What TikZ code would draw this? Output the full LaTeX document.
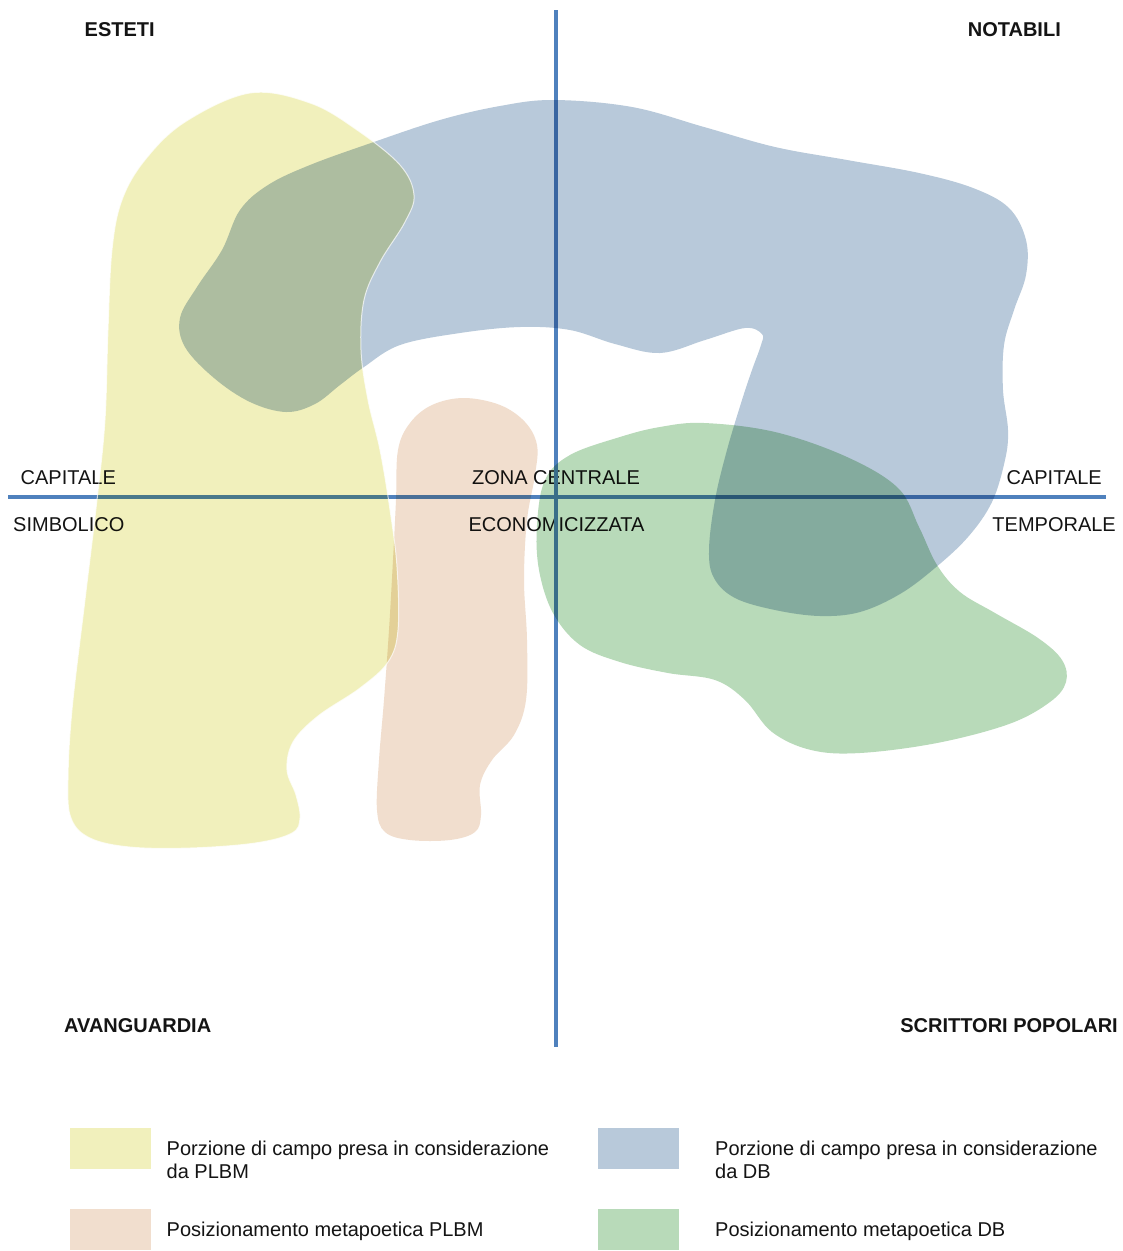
\documentclass[tikz,border=0pt]{standalone}
\usepackage{fontspec}
\setmainfont{Liberation Sans}
\definecolor{cyel}{RGB}{241,240,188}
\definecolor{cblu}{RGB}{184,201,218}
\definecolor{cpea}{RGB}{241,222,206}
\definecolor{cgre}{RGB}{184,218,185}
\definecolor{caxis}{RGB}{79,129,189}
\definecolor{ctxt}{RGB}{20,20,20}
\tikzset{
  lbl/.style={font=\fontsize{20}{23}\selectfont, text=ctxt, inner sep=0pt},
  blbl/.style={lbl, font=\fontsize{20}{23}\selectfont\bfseries},
  axis/.style={draw=caxis, line width=3.5pt},
  blob/.style={blend mode=multiply, draw=none},
  swatch/.style={draw=none, minimum width=81pt, minimum height=41pt, inner sep=0pt}
}
\begin{document}
\begin{tikzpicture}[x=1pt,y=-1pt]
\useasboundingbox (0,0) rectangle (1123,1251);
\fill[white] (0,0) rectangle (1123,1251);
% corner labels
\node[blbl, anchor=base west] (esteti) at (84.5,36.7) {ESTETI};
\node[blbl, anchor=base east] (notabili) at (1061,36.7) {NOTABILI};
\node[blbl, anchor=base west] (avang) at (64,1032) {AVANGUARDIA};
\node[blbl, anchor=base east] (scritt) at (1118,1032) {SCRITTORI POPOLARI};
% axis labels
\node[lbl, anchor=base west] (capl) at (20.5,484) {CAPITALE};
\node[lbl, anchor=base west] (simb) at (13,531) {SIMBOLICO};
\node[lbl, anchor=base] (zona) at (556,484) {ZONA CENTRALE};
\node[lbl, anchor=base] (econ) at (556.5,531) {ECONOMICIZZATA};
\node[lbl, anchor=base east] (capr) at (1102,484) {CAPITALE};
\node[lbl, anchor=base east] (temp) at (1116,531) {TEMPORALE};
% axes
\coordinate (vtop) at (556,10);
\coordinate (vbot) at (556,1047);
\coordinate (hleft) at (8,497);
\coordinate (hright) at (1106,497);
\draw[axis] (vtop) -- (vbot);
\draw[axis] (hleft) -- (hright);
% yellow: porzione PLBM
\def\yellowpath{plot[smooth cycle, tension=0.6] coordinates {
 (250,93) (310,103) (357,130) (400,165) (414,195) (405,222) (380,262) (364,300)
 (361,350) (368,400) (380,450) (390,510) (397,567) (398,630) (388,662) (360,688)
 (318,716) (293,742) (287,770) (296,795) (300,818) (292,833) (255,843) (190,848)
 (130,847) (90,838) (71,818) (68,780) (72,710) (85,600) (97,500) (105,420)
 (108,330) (112,250) (122,200) (145,160) (185,122)}}
\fill[blob, fill=cyel] \yellowpath;
% blue: porzione DB
\fill[blob, fill=cblu] plot[smooth cycle, tension=0.6] coordinates {
 (554,100) (632,107) (704,127) (775,147) (847,160) (919,173) (973,188) (1009,208)
 (1026,240) (1026,275) (1014,310) (1004,345) (1003,390) (1008,430) (1005,460)
 (992,502) (968,537) (935,568) (900,594) (860,612) (820,616) (775,610) (735,598)
 (714,578) (709,550) (715,500) (727,450) (742,400) (752,370) (761,345) (762,334)
 (745,328) (705,340) (660,353) (615,344) (570,330) (520,327) (460,333) (400,345)
 (364,367) (340,385) (315,404) (286,412) (250,402) (214,378) (185,347) (180,318)
 (197,287) (222,250) (240,210) (268,185) (310,165) (371,143) (440,120) (500,106)};
% peach: metapoetica PLBM
\fill[blob, fill=cpea] plot[smooth cycle, tension=0.6] coordinates {
 (464,398) (500,405) (525,422) (537,445) (535,475) (527,520) (524,580) (527,640)
 (526,700) (514,735) (492,760) (480,785) (481,815) (475,832) (450,840) (410,840)
 (385,832) (377,810) (379,760) (384,700) (389,630) (393,560) (396,500) (398,450)
 (410,423) (432,405)};
% green: metapoetica DB
\fill[blob, fill=cgre] plot[smooth cycle, tension=0.6] coordinates {
 (704,423) (775,432) (847,457) (898,488) (919,527) (937,565) (960,592) (995,613)
 (1038,638) (1062,660) (1066,682) (1050,702) (1009,724) (937,743) (860,753)
 (811,750) (772,732) (745,700) (715,680) (668,673) (620,662) (580,645) (553,613)
 (539,570) (537,525) (545,480) (570,455) (620,437) (660,427)};
% thin light rim of the yellow area
\draw[white, line width=1pt, opacity=0.7] \yellowpath;
% legend
\node[swatch, fill=cyel, anchor=north west] (sw1) at (69.5,1128) {};
\node[swatch, fill=cblu, anchor=north west] (sw2) at (598,1128) {};
\node[swatch, fill=cpea, anchor=north west] (sw3) at (69.5,1209) {};
\node[swatch, fill=cgre, anchor=north west] (sw4) at (598,1209) {};
\node[lbl, anchor=base west] (l1a) at (166.5,1155) {Porzione di campo presa in considerazione};
\node[lbl, anchor=base west] (l1b) at (166.5,1178) {da PLBM};
\node[lbl, anchor=base west] (l2a) at (715,1155) {Porzione di campo presa in considerazione};
\node[lbl, anchor=base west] (l2b) at (715,1178) {da DB};
\node[lbl, anchor=base west] (l3) at (166.5,1236) {Posizionamento metapoetica PLBM};
\node[lbl, anchor=base west] (l4) at (715,1236) {Posizionamento metapoetica DB};
\end{tikzpicture}
\end{document}
